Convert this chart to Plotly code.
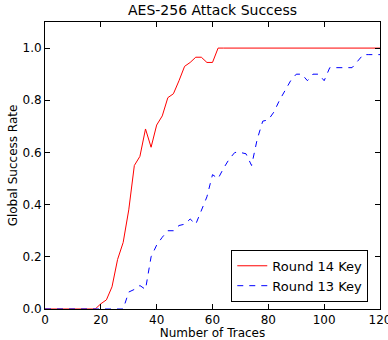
import plotly.graph_objects as go

traces = list(range(0, 122, 2))
round14 = [0, 0, 0, 0, 0, 0, 0, 0, 0, 0,
           0.02, 0.035, 0.085, 0.19, 0.255, 0.38, 0.55, 0.585, 0.69, 0.62,
           0.705, 0.74, 0.81, 0.825, 0.875, 0.93, 0.945, 0.965, 0.965, 0.945,
           0.945, 1.0, 1.0, 1.0, 1.0, 1.0, 1.0, 1.0, 1.0, 1.0,
           1.0, 1.0, 1.0, 1.0, 1.0, 1.0, 1.0, 1.0, 1.0, 1.0,
           1.0, 1.0, 1.0, 1.0, 1.0, 1.0, 1.0, 1.0, 1.0, 1.0, 1.0]
round13 = [0, 0, 0, 0, 0, 0, 0, 0, 0, 0,
           0, 0, 0, 0, 0, 0.065, 0.075, 0.09, 0.075, 0.2,
           0.245, 0.275, 0.3, 0.3, 0.32, 0.325, 0.345, 0.325, 0.375, 0.43,
           0.515, 0.5, 0.54, 0.575, 0.6, 0.6, 0.595, 0.55, 0.65, 0.72,
           0.725, 0.755, 0.8, 0.835, 0.875, 0.9, 0.9, 0.875, 0.9, 0.9,
           0.875, 0.925, 0.925, 0.925, 0.925, 0.925, 0.95, 0.975, 0.975, 0.975, 0.975]

x_ticks = [0, 20, 40, 60, 80, 100, 120]
y_ticks = [0.0, 0.2, 0.4, 0.6, 0.8, 1.0]

font = "DejaVu Sans, Liberation Sans, sans-serif"

fig = go.Figure()
fig.add_trace(go.Scatter(x=traces, y=round14, mode="lines", name="Round 14 Key",
                         line=dict(color="#ff0000", width=1)))
fig.add_trace(go.Scatter(x=traces, y=round13, mode="lines", name="Round 13 Key",
                         line=dict(color="#0000ff", width=1, dash="6px,6px")))

axis_common = dict(showgrid=False, zeroline=False, showline=True, linecolor="black",
                   linewidth=1, mirror="ticks", ticks="inside", ticklen=5,
                   tickcolor="black", automargin=False,
                   tickfont=dict(size=12, color="black", family=font),
                   title_font=dict(size=12, color="black", family=font))

fig.update_layout(
    width=388, height=340,
    margin=dict(l=45, r=8, t=22, b=31),
    paper_bgcolor="white", plot_bgcolor="white",
    font=dict(family=font, color="black"),
    title=dict(text="AES-256 Attack Success", x=0.5, xref="paper", xanchor="center",
               y=1, yref="container", yanchor="top", pad=dict(t=5),
               font=dict(size=14, color="black", family=font)),
    xaxis=dict(range=[0, 120], tickvals=x_ticks, ticktext=[str(v) for v in x_ticks],
               ticklabeloverflow="allow",
               title=dict(text="Number of Traces", standoff=4), **axis_common),
    yaxis=dict(range=[0, 1.1], tickvals=y_ticks, ticktext=["%.1f" % v for v in y_ticks],
               title=dict(text="Global Success Rate", standoff=2), **axis_common),
    legend=dict(x=0.965, y=0.025, xanchor="right", yanchor="bottom",
                bgcolor="white", bordercolor="black", borderwidth=1,
                font=dict(size=13, color="black", family=font),
                itemwidth=30, tracegroupgap=0),
    showlegend=True,
)

fig.write_html("out.html")
